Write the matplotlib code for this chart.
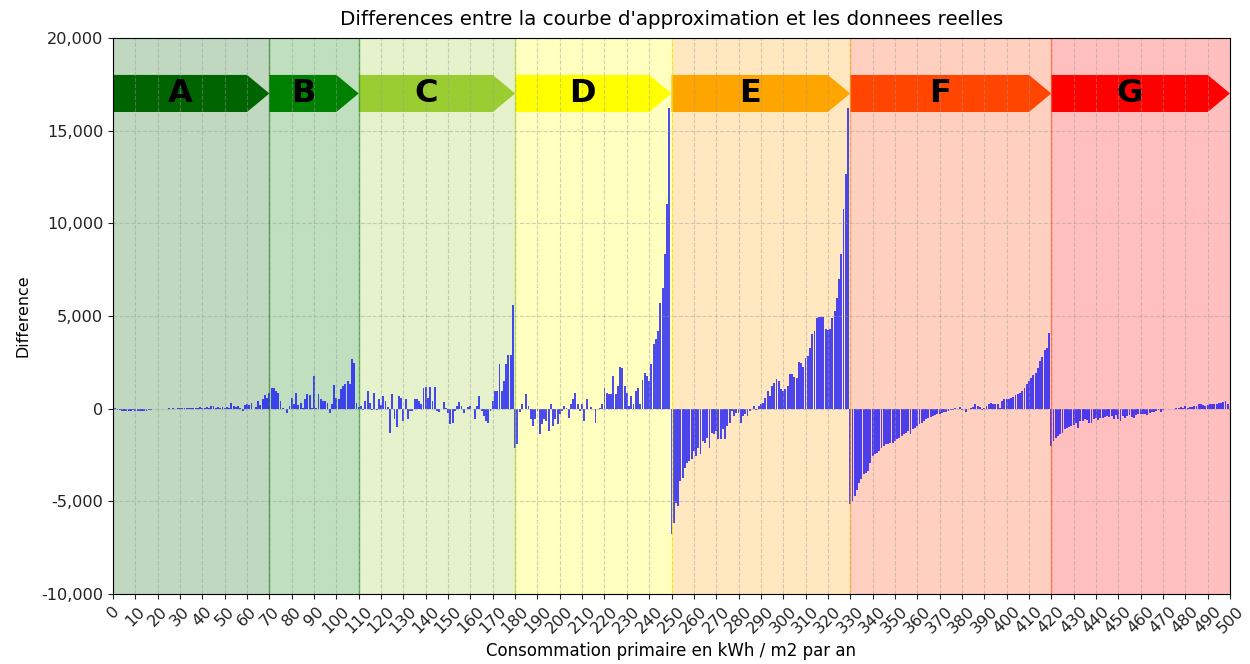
"""Differences between the fitted curve and the real data, by energy class."""

import matplotlib

matplotlib.use("Agg")
import matplotlib.pyplot as plt
import numpy as np
from matplotlib.patches import Polygon
from matplotlib.ticker import FuncFormatter


# energy classes: label, start, end, colour
CLASS_LABELS = ["A", "B", "C", "D", "E", "F", "G"]
CLASS_EDGES = [0, 70, 110, 180, 250, 330, 420, 500]
CLASS_COLORS = ["darkgreen", "green", "yellowgreen", "yellow", "orange", "orangered", "red"]

# differences, one value per kWh/m2 step
DIFF_A = [
    20, 60, -80, -100, -110, -120, -130, -120, -110, -100,
    -120, -130, -110, -120, -140, -120, -100, -90, -40, -30,
    -20, -30, -10, 0, 0, 10, 0, 10, 0, 20,
    40, 50, 40, 60, 50, 60, 40, 60, 50, 70,
    60, 50, 70, 60, 120, 150, 60, 80, 60, 90,
    60, 110, 60, 290, 140, 90, 140, 50, -130, 180,
    230, 180, 320, -40, 90, 410, 180, 500, 720, 590,
]
DIFF_B = [
    860, 1130, 1130, 950, 860, 410, 50, 0, -220, 140,
    590, 230, 860, 180, 320, 50, 500, 770, 720, 50,
    1760, 50, 770, 500, 410, 410, 290, -220, 230, 1260,
    590, 500, 1080, 1220, 1310, 1490, 1310, 2660, 2480, 320,
]
DIFF_C = [
    100, 150, -100, 400, 950, 300, -80, 860, -100, 500,
    200, 700, 400, 100, -1300, 770, -580, -1000, 680, 600,
    -670, 500, -580, -120, -150, 500, 500, 400, 230, 1130,
    1170, 600, 1170, 400, 1170, -120, -200, 0, 380, 50,
    -220, -850, -760, -130, 150, 380, 150, -220, 0, 90,
    150, -30, -580, 150, 680, -120, -400, -670, -760, -120,
    400, 950, 950, 2400, 950, 1500, 2400, 2900, 2900, 5600,
]
DIFF_D = [
    -2100, -1900, -200, 230, -40, 770, 140, -580, -940, -580,
    -130, -1380, -850, -580, -670, -1200, 230, -940, -580, -850,
    -300, -130, 140, 50, -490, 230, 500, 860, 230, -130,
    230, -670, 500, -40, 100, 0, -760, 0, 50, 230,
    1130, 860, 770, 770, 1760, 770, 1220, 2250, 2210, 1220,
    860, 140, 680, 230, 950, 1130, 230, 1530, 1940, 1760,
    1490, 2390, 3470, 3740, 4190, 5720, 6530, 8330, 11030, 16240,
]
DIFF_E = [
    -6780, -6150, -5070, -5250, -3900, -3720, -3180, -2910, -2820, -2730,
    -2280, -2550, -2100, -2460, -1740, -1830, -1560, -2100, -1300, -1380,
    -1200, -1650, -1650, -1110, -1650, -940, -760, -130, -400, -220,
    -220, -760, -400, -300, -400, -130, -40, 140, -90, 140,
    230, 320, 590, 950, 680, 1220, 1400, 1580, 1490, 1040,
    950, 1040, 1220, 1850, 1850, 1710, 1670, 2540, 2480, 2250,
    2750, 2840, 3290, 4050, 4190, 4870, 4950, 4950, 4950, 4280,
    4230, 4280, 4910, 5270, 5990, 6980, 8330, 10760, 12640, 16240,
]
DIFF_F = [
    -5160, -4980, -4710, -4400, -3990, -3810, -3540, -3450, -3360, -2910,
    -2550, -2460, -2370, -2280, -2140, -2010, -1920, -1890, -1830, -1830,
    -1740, -1650, -1560, -1470, -1350, -1290, -1200, -1380, -1110, -1030,
    -940, -850, -760, -670, -580, -490, -450, -400, -340, -300,
    -270, -230, -200, -160, -130, -90, -50, 50, -20, 90,
    -90, -40, -180, -20, 50, 90, 230, 140, 90, -90,
    50, 140, 270, 320, 230, 270, 270, 50, 410, 500,
    500, 500, 590, 630, 740, 770, 860, 950, 1130, 1310,
    1490, 1670, 1820, 1940, 2210, 2570, 2790, 3180, 3290, 4100,
]
DIFF_G = [
    -2010, -1740, -1560, -1470, -1380, -1300, -1110, -1060, -990, -940,
    -880, -760, -1030, -670, -670, -580, -630, -760, -760, -580,
    -520, -630, -490, -490, -450, -400, -450, -400, -580, -340,
    -580, -670, -400, -490, -400, -340, -450, -490, -340, -310,
    -270, -310, -270, -340, -220, -160, -160, -130, -90, -160,
    -90, -40, -20, 0, -40, 0, 40, 50, 70, 50,
    130, 50, 90, 110, 140, 140, 230, 270, 200, 140,
    200, 230, 230, 270, 270, 310, 320, 360, 410, 230,
]

X_TICKS = list(range(0, 501, 10))
Y_TICKS = [-10000, -5000, 0, 5000, 10000, 15000, 20000]
ARROW_LOW, ARROW_HIGH = 16000, 18000
HEAD = 10


def main() -> None:
    diff = np.array(DIFF_A + DIFF_B + DIFF_C + DIFF_D + DIFF_E + DIFF_F + DIFF_G)
    conso = np.arange(len(diff))

    fig, ax = plt.subplots(figsize=(12.5, 6.64), dpi=100)
    fig.subplots_adjust(left=0.0904, right=0.984, top=0.943, bottom=0.1054)

    for label, start, end, color in zip(
        CLASS_LABELS, CLASS_EDGES[:-1], CLASS_EDGES[1:], CLASS_COLORS
    ):
        ax.axvspan(start, end, color=color, alpha=0.25, linewidth=0)
        if end < 500:
            ax.axvline(end, color=color, linewidth=1, alpha=0.5)
        mid = (ARROW_LOW + ARROW_HIGH) / 2
        arrow = Polygon(
            [
                (start, ARROW_LOW),
                (end - HEAD, ARROW_LOW),
                (end, mid),
                (end - HEAD, ARROW_HIGH),
                (start, ARROW_HIGH),
            ],
            closed=True,
            facecolor=color,
            edgecolor="none",
        )
        ax.add_patch(arrow)
        ax.text(
            (start + end - HEAD) / 2,
            mid,
            label,
            ha="center",
            va="center",
            fontsize=23,
            fontweight="bold",
            color="black",
        )

    ax.bar(conso, diff, width=0.85, color="blue", alpha=0.7, linewidth=0)

    ax.set_xlim(0, 500)
    ax.set_ylim(-10000, 20000)
    ax.set_xticks(X_TICKS)
    ax.set_yticks(Y_TICKS)
    ax.yaxis.set_major_formatter(FuncFormatter(lambda v, _: f"{v:,.0f}"))
    ax.tick_params(axis="x", labelrotation=45, labelsize=11.6, colors="#222222")
    ax.tick_params(axis="y", labelsize=11.6, colors="#222222")
    ax.grid(True, linestyle="--", color="#9a9a9a", alpha=0.45, linewidth=0.8)

    ax.set_title(
        "Differences entre la courbe d'approximation et les donnees reelles",
        fontsize=14.3,
        pad=9,
    )
    ax.set_xlabel("Consommation primaire en kWh / m2 par an", fontsize=12)
    ax.set_ylabel("Difference", fontsize=11.4, labelpad=8)

    fig.savefig("out.png", dpi=100)
    plt.close(fig)


if __name__ == "__main__":
    main()
